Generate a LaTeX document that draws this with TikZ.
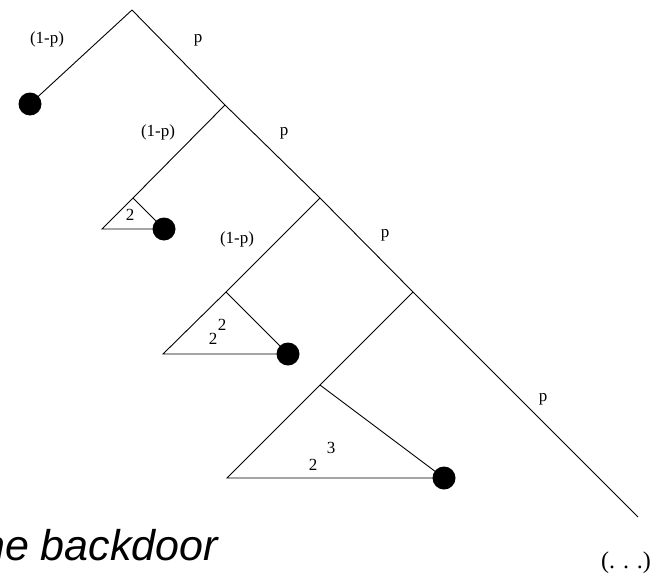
\documentclass[tikz,border=0pt]{standalone}
\usepackage{fontspec}
\setmainfont{Liberation Serif}
\newfontfamily\capfont{Liberation Sans}
\begin{document}
\begin{tikzpicture}[x=1pt,y=-1pt,
  edge/.style={draw=black,line width=0.9pt},
  leaf/.style={circle,fill=black,inner sep=0pt,minimum size=23pt},
  lbl/.style={inner sep=0pt,font=\fontsize{17}{17}\selectfont},
  dots/.style={inner sep=0pt,font=\fontsize{24}{24}\selectfont},
  caption/.style={inner sep=0pt,anchor=base east,font=\capfont\itshape\fontsize{43}{43}\selectfont}]
\useasboundingbox (0,0) rectangle (655,578);
\clip (0,0) rectangle (655,578);
% branch points on the main line
\coordinate (n0) at (132,10);
\coordinate (n1) at (225,105);
\coordinate (n2) at (320,198);
\coordinate (n3) at (413,292);
\coordinate (nend) at (638,517);
% triangle corners
\coordinate (a1) at (133,198);
\coordinate (l1) at (102,229);
\coordinate (a2) at (226,292);
\coordinate (l2) at (163,354);
\coordinate (a3) at (320,385);
\coordinate (l3) at (227,478);
% leaves
\node[leaf] (d0) at (30,104) {};
\node[leaf] (d1) at (164,229) {};
\node[leaf] (d2) at (288,354) {};
\node[leaf] (d3) at (444,478) {};
% main line
\draw[edge] (n0) -- (n1) -- (n2) -- (n3) -- (nend);
% left branches
\draw[edge] (n0) -- (d0.center);
\draw[edge] (n1) -- (a1) -- (l1) -- (d1.center) -- (a1);
\draw[edge] (n2) -- (a2) -- (l2) -- (d2.center) -- (a2);
\draw[edge] (n3) -- (a3) -- (l3) -- (d3.center) -- (a3);
% labels
\node[lbl] (q0) at (47,39) {(1-p)};
\node[lbl] (q1) at (158,132) {(1-p)};
\node[lbl] (q2) at (237,239) {(1-p)};
\node[lbl] (p0) at (198,40) {p};
\node[lbl] (p1) at (284,133) {p};
\node[lbl] (p2) at (385,235) {p};
\node[lbl] (p3) at (543,399) {p};
\node[lbl] (t1) at (130,215) {2};
\node[lbl] (t2b) at (213,339) {2};
\node[lbl] (t2e) at (222,325) {2};
\node[lbl] (t3b) at (313,465) {2};
\node[lbl] (t3e) at (331,448) {3};
\node[dots] (more) at (626,563) {(. . .)};
\node[caption] (cap) at (218,560) {the backdoor};
\end{tikzpicture}
\end{document}
